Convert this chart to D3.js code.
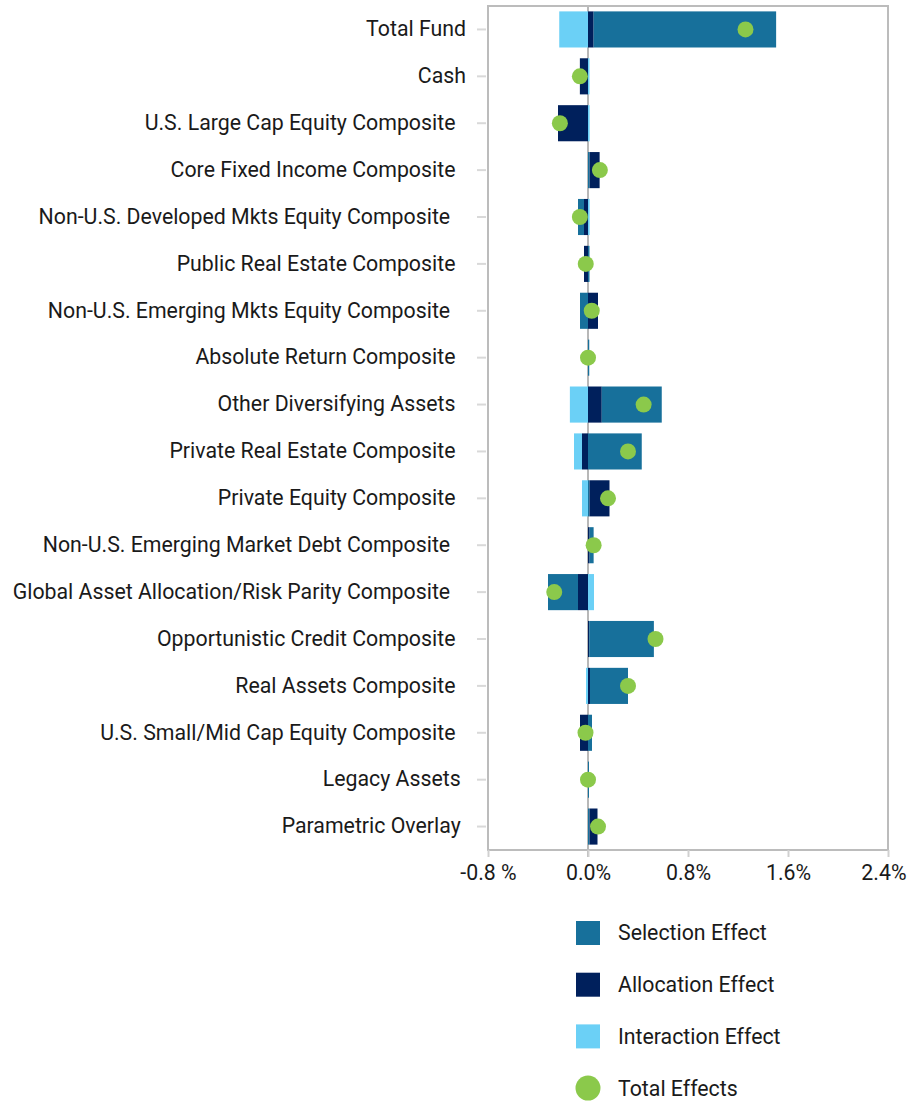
<!DOCTYPE html>
<html>
<head>
<meta charset="utf-8">
<title>Attribution Effects</title>
<style>
  body { margin: 0; background: #fff; }
  text { font-family: Roboto, "Noto Sans", sans-serif; fill: #1a1a1a; white-space: pre; }
</style>
</head>
<body>
<svg width="907" height="1101"></svg>
<script src="https://d3js.org/d3.v7.min.js"></script>
<script>
// categories (trailing spaces kept as in the source labels)
var categories = [
  "Total Fund",
  "Cash",
  "U.S. Large Cap Equity Composite  ",
  "Core Fixed Income Composite  ",
  "Non-U.S. Developed Mkts Equity Composite   ",
  "Public Real Estate Composite  ",
  "Non-U.S. Emerging Mkts Equity Composite   ",
  "Absolute Return Composite  ",
  "Other Diversifying Assets  ",
  "Private Real Estate Composite  ",
  "Private Equity Composite  ",
  "Non-U.S. Emerging Market Debt Composite   ",
  "Global Asset Allocation/Risk Parity Composite   ",
  "Opportunistic Credit Composite  ",
  "Real Assets Composite  ",
  "U.S. Small/Mid Cap Equity Composite  ",
  "Legacy Assets ",
  "Parametric Overlay "
];

// effects in %
var selection   = [1.46, 0, 0, 0.013, -0.048, 0.012, -0.064, 0.01, 0.48, 0.43, 0.012, 0.032, -0.24, 0.517, 0.304, 0.032, 0.008, 0.012];
var allocation  = [0.045, -0.065, -0.24, 0.08, -0.032, -0.032, 0.08, 0, 0.11, -0.048, 0.16, 0.013, -0.08, 0.01, 0.016, -0.064, 0, 0.064];
var interaction = [-0.23, 0.012, 0.013, 0, 0.013, 0, 0, 0, -0.145, -0.064, -0.048, 0, 0.048, 0, -0.016, 0, 0, 0];
var total       = [1.26, -0.065, -0.225, 0.095, -0.065, -0.018, 0.03, 0, 0.445, 0.32, 0.16, 0.045, -0.27, 0.54, 0.32, -0.02, 0, 0.08];

var xTicks = [-0.8, 0, 0.8, 1.6, 2.4];
var xTickLabels = ["-0.8 %", "0.0%", "0.8%", "1.6%", "2.4%"];

var seriesNames = ["Selection Effect", "Allocation Effect", "Interaction Effect"];
var seriesColors = ["#17709b", "#00205c", "#6bd0f6"];
var totalName = "Total Effects";
var totalColor = "#8bc94b";

var svg = d3.select("svg");

var x = d3.scaleLinear().domain([-0.8, 2.4]).range([488, 888]);
var y = d3.scaleBand().domain(categories).range([6, 850])
  .paddingInner(0.23).paddingOuter(0.115);

// build per-row segments: smallest magnitude sits next to zero
var rows = categories.map(function(c, i) {
  var vals = [selection[i], allocation[i], interaction[i]].map(function(v, k) {
    return {key: k, value: v, cat: c};
  });
  var segs = [];
  ["pos", "neg"].forEach(function(sign) {
    var part = vals.filter(function(d) { return sign === "pos" ? d.value > 0 : d.value < 0; })
      .sort(function(a, b) { return Math.abs(a.value) - Math.abs(b.value); });
    var acc = 0;
    part.forEach(function(d) {
      segs.push({key: d.key, cat: c, x0: acc, x1: acc + d.value});
      acc += d.value;
    });
  });
  return segs;
});

// zero line
svg.append("line")
  .attr("x1", x(0)).attr("x2", x(0))
  .attr("y1", 6).attr("y2", 857)
  .attr("stroke", "#b8b8b8").attr("stroke-width", 2);

// bars
svg.append("g").selectAll("rect")
  .data(d3.merge(rows))
  .enter().append("rect")
  .attr("x", function(d) { return x(Math.min(d.x0, d.x1)); })
  .attr("width", function(d) { return Math.abs(x(d.x1) - x(d.x0)); })
  .attr("y", function(d) { return y(d.cat); })
  .attr("height", y.bandwidth())
  .attr("fill", function(d) { return seriesColors[d.key]; });

// plot frame
svg.append("rect")
  .attr("x", 488).attr("y", 6)
  .attr("width", 400).attr("height", 844)
  .attr("fill", "none")
  .attr("stroke", "#bcbcbc").attr("stroke-width", 2);

// total dots
svg.append("g").selectAll("circle")
  .data(total)
  .enter().append("circle")
  .attr("cx", function(d) { return x(d); })
  .attr("cy", function(d, i) { return y(categories[i]) + y.bandwidth() / 2; })
  .attr("r", 8)
  .attr("fill", totalColor);

// y axis
var yAxis = svg.append("g")
  .attr("transform", "translate(487,0)")
  .call(d3.axisLeft(y).tickSize(10).tickPadding(11));
yAxis.select(".domain").remove();
yAxis.selectAll(".tick line").attr("stroke", "#d9d9d9").attr("stroke-width", 2).attr("x1", -1);
yAxis.selectAll(".tick text")
  .style("font-size", "21.3px")
  .style("font-family", "Roboto, sans-serif")
  .attr("fill", "#1a1a1a");

// x axis
var xAxis = svg.append("g")
  .attr("transform", "translate(0,850)")
  .call(d3.axisBottom(x).tickValues(xTicks)
    .tickFormat(function(d, i) { return xTickLabels[i]; })
    .tickSize(7).tickPadding(8));
xAxis.select(".domain").remove();
xAxis.selectAll(".tick line").attr("stroke", "#d0d0d0").attr("stroke-width", 2);
xAxis.selectAll(".tick text")
  .style("font-size", "21.3px")
  .style("font-family", "Roboto, sans-serif")
  .attr("fill", "#1a1a1a");
// last label pulled in so it stays inside the page
xAxis.selectAll(".tick text").filter(function(d) { return d === 2.4; })
  .attr("text-anchor", "end").attr("x", 18);

// legend
var legendItems = seriesNames.map(function(n, i) { return {name: n, color: seriesColors[i], shape: "rect"}; })
  .concat([{name: totalName, color: totalColor, shape: "circle"}]);

var legend = svg.append("g").selectAll("g")
  .data(legendItems)
  .enter().append("g")
  .attr("transform", function(d, i) { return "translate(588," + (933 + i * 51.7) + ")"; });

legend.filter(function(d) { return d.shape === "rect"; })
  .append("rect")
  .attr("x", -12).attr("y", -12)
  .attr("width", 24).attr("height", 24)
  .attr("fill", function(d) { return d.color; });

legend.filter(function(d) { return d.shape === "circle"; })
  .append("circle")
  .attr("r", 12.5)
  .attr("fill", function(d) { return d.color; });

legend.append("text")
  .attr("x", 30)
  .attr("dy", "0.35em")
  .style("font-size", "21.3px")
  .text(function(d) { return d.name; });
</script>
</body>
</html>
